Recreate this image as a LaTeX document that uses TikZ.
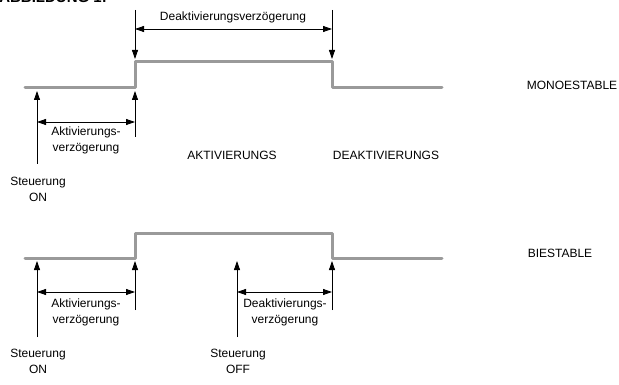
\documentclass[tikz,border=0pt]{standalone}
\usepackage{fontspec}
\setmainfont{Liberation Sans}
\usetikzlibrary{arrows.meta}
\definecolor{signal}{HTML}{9A9A9A}
\tikzset{
  wave/.style={draw=signal, line width=3pt, line join=round, line cap=round},
  thinline/.style={draw=black, line width=0.8pt},
  tipup/.style={thinline, -{Triangle[length=9pt,width=6pt]}},
  dimline/.style={thinline, {Triangle[length=9pt,width=6pt]}-{Triangle[length=9pt,width=6pt]}},
  lbl/.style={font=\fontsize{12}{16}\selectfont, inner sep=0pt, align=center},
  caption/.style={font=\fontsize{12}{14}\selectfont, inner sep=0pt}
}
\begin{document}
\begin{tikzpicture}[x=1pt,y=-1pt]
\useasboundingbox (0,0) rectangle (619,385);

% figure heading, partly cut at the top edge
\begin{scope}
  \clip (0,0) rectangle (619,385);
  \node[anchor=base east, inner sep=0pt, font=\bfseries\fontsize{15}{17}\selectfont] (head) at (107,3) {ABBILDUNG 1:};
\end{scope}

% ---------------- monostable ----------------
\coordinate (m0) at (25,88);
\coordinate (m1) at (135,88);
\coordinate (m2) at (135,62);
\coordinate (m3) at (332,62);
\coordinate (m4) at (332,88);
\coordinate (m5) at (442,88);
\draw[wave] (m0) -- (m1) -- (m2) -- (m3) -- (m4) -- (m5);

% deactivation delay markers above the pulse
\coordinate (da) at (135,10);
\coordinate (dat) at (135,59);
\coordinate (db) at (332,10);
\coordinate (dbt) at (332,59);
\draw[tipup] (da) -- (dat);
\draw[tipup] (db) -- (dbt);
\coordinate (dl) at (135,29);
\coordinate (dr) at (332,29);
\draw[dimline] (dl) -- (dr);
\node[lbl] (mdeak) at (233,17) {Deaktivierungsverzögerung};

% activation delay markers below
\coordinate (ma) at (37,164);
\coordinate (mat) at (37,91);
\coordinate (mb) at (135,137);
\coordinate (mbt) at (135,91);
\draw[tipup] (ma) -- (mat);
\draw[tipup] (mb) -- (mbt);
\coordinate (ml) at (37,122);
\coordinate (mr) at (135,122);
\draw[dimline] (ml) -- (mr);
\node[lbl] (makt) at (86,140) {Aktivierungs-\\verzögerung};
\node[lbl] (mon) at (38,189) {Steuerung\\ON};

\node[caption] (aktiv) at (232,155) {AKTIVIERUNGS};
\node[caption] (deakt) at (386,155) {DEAKTIVIERUNGS};
\node[caption] (mono) at (572,85) {MONOESTABLE};

% ---------------- bistable ----------------
\coordinate (b0) at (25,258);
\coordinate (b1) at (135,258);
\coordinate (b2) at (135,233);
\coordinate (b3) at (332,233);
\coordinate (b4) at (332,258);
\coordinate (b5) at (442,258);
\draw[wave] (b0) -- (b1) -- (b2) -- (b3) -- (b4) -- (b5);

\coordinate (ba) at (37,337);
\coordinate (bat) at (37,261);
\coordinate (bb) at (135,310);
\coordinate (bbt) at (135,261);
\draw[tipup] (ba) -- (bat);
\draw[tipup] (bb) -- (bbt);
\coordinate (bl) at (37,292);
\coordinate (br) at (135,292);
\draw[dimline] (bl) -- (br);
\node[lbl] (bakt) at (86,312) {Aktivierungs-\\verzögerung};
\node[lbl] (bon) at (38,361) {Steuerung\\ON};

\coordinate (bc) at (237,337);
\coordinate (bct) at (237,261);
\coordinate (bd) at (332,310);
\coordinate (bdt) at (332,261);
\draw[tipup] (bc) -- (bct);
\draw[tipup] (bd) -- (bdt);
\coordinate (bl2) at (237,292);
\coordinate (br2) at (332,292);
\draw[dimline] (bl2) -- (br2);
\node[lbl] (bdeak) at (285,312) {Deaktivierungs-\\verzögerung};
\node[lbl] (boff) at (238,361) {Steuerung\\OFF};

\node[caption] (bi) at (560,253) {BIESTABLE};
\end{tikzpicture}
\end{document}
